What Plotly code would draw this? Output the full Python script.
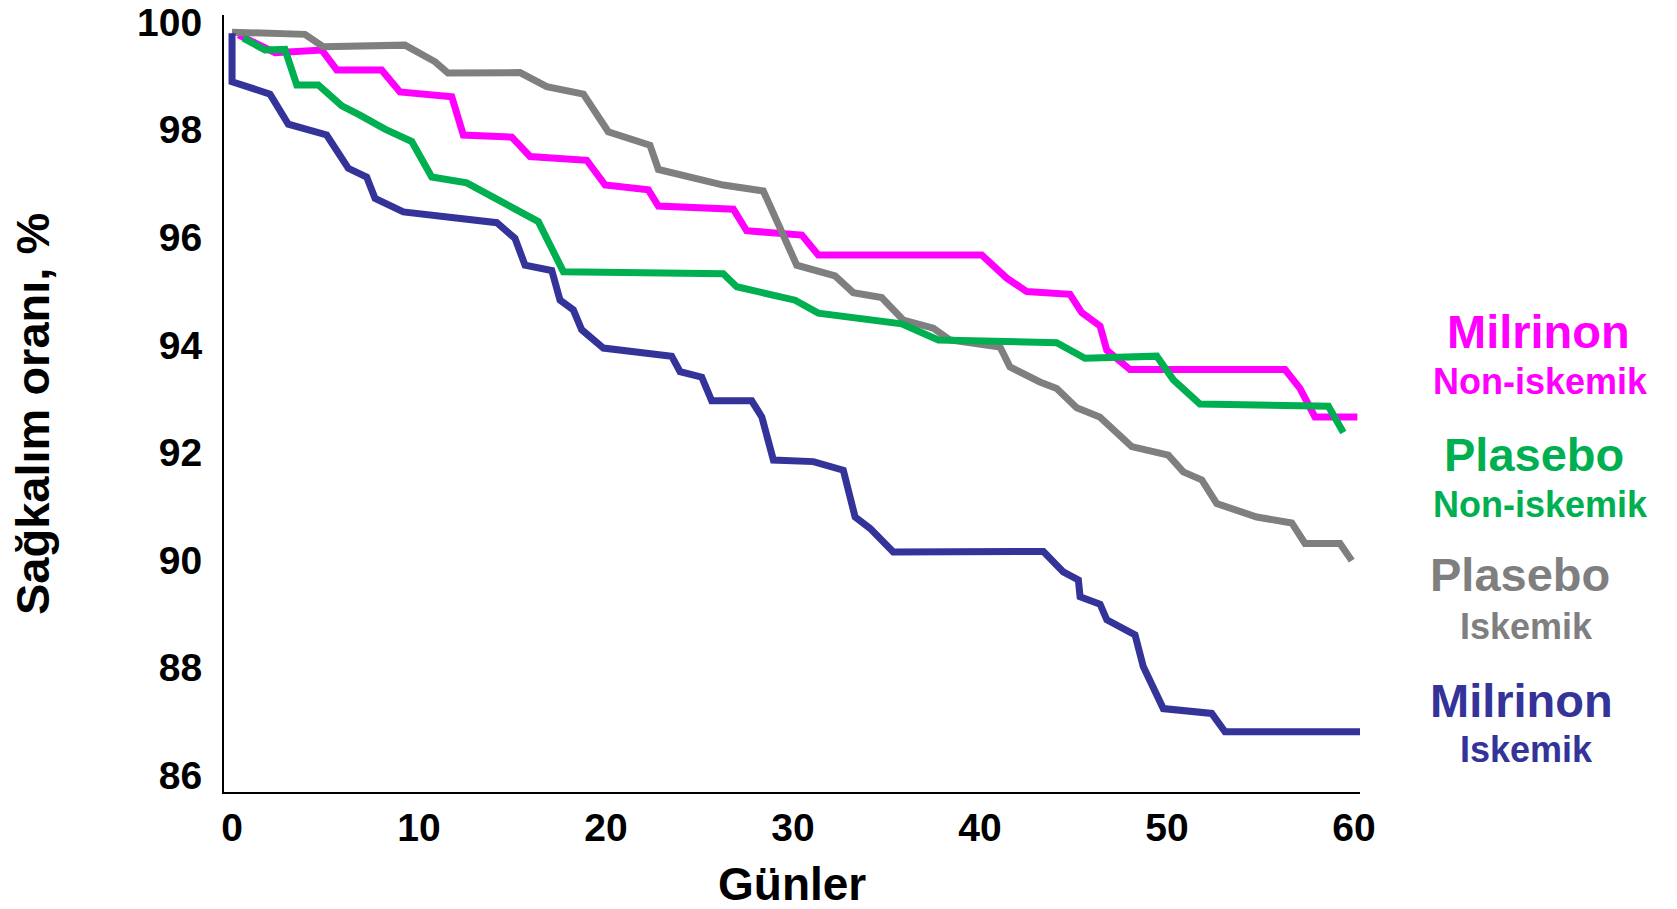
import plotly.graph_objects as go

# ---- data ----
days_milrinon_noniskemik = [0.34, 2.30, 4.80, 5.60, 8.0, 8.98, 11.75, 12.37, 14.96, 15.94, 18.97, 19.95,
                            22.26, 22.8, 26.81, 27.52, 30.47, 31.35, 40.09, 41.43, 42.5, 44.81, 45.44,
                            46.42, 46.78, 48.02, 56.31, 57.11, 57.91, 60.18]
surv_milrinon_noniskemik = [99.76, 99.43, 99.48, 99.11, 99.11, 98.70, 98.61, 97.90, 97.86, 97.50, 97.43, 96.97,
                            96.88, 96.58, 96.52, 96.12, 96.04, 95.67, 95.67, 95.24, 94.99, 94.94, 94.60,
                            94.35, 93.90, 93.54, 93.54, 93.19, 92.66, 92.66]

days_plasebo_iskemik = [0, 3.9, 4.87, 9.25, 10.86, 11.55, 15.4, 16.83, 18.79, 20.12, 22.35, 22.8, 26.27,
                        28.41, 30.2, 32.25, 33.22, 34.74, 35.9, 37.5, 38.4, 41.07, 41.6, 43.2, 44.1, 45.17,
                        46.4, 48.11, 50.07, 50.87, 51.86, 52.66, 54.8, 56.67, 57.38, 59.25, 59.88]
surv_plasebo_iskemik = [99.81, 99.77, 99.54, 99.57, 99.26, 99.05, 99.06, 98.80, 98.66, 97.96, 97.71, 97.26, 96.97,
                        96.86, 95.48, 95.28, 94.97, 94.88, 94.46, 94.31, 94.09, 93.96, 93.59, 93.31, 93.19, 92.83,
                        92.66, 92.11, 91.95, 91.64, 91.49, 91.05, 90.80, 90.69, 90.31, 90.31, 89.99]

days_plasebo_noniskemik = [0.6, 1.76, 2.83, 3.46, 4.61, 5.87, 6.84, 8.18, 9.61, 10.68, 12.55, 13.97, 16.38,
                           17.72, 26.27, 26.99, 30.11, 31.35, 35.81, 37.77, 44.1, 45.61, 49.45, 50.34, 51.76,
                           58.63, 59.43]
surv_plasebo_noniskemik = [99.70, 99.48, 99.49, 98.83, 98.83, 98.44, 98.27, 98.01, 97.78, 97.12, 97.01, 96.75, 96.29,
                           95.36, 95.32, 95.08, 94.83, 94.59, 94.39, 94.09, 94.04, 93.75, 93.79, 93.35, 92.90,
                           92.86, 92.37]

days_milrinon_iskemik = [0, 0, 2.03, 3.01, 5.06, 6.22, 7.20, 7.65, 9.16, 14.16, 15.13, 15.67, 17.1, 17.54,
                         18.25, 18.70, 19.86, 23.51, 23.96, 25.12, 25.65, 27.79, 28.33, 28.95, 31.09, 32.69,
                         33.32, 34.12, 35.36, 43.39, 44.45, 45.26, 45.35, 46.42, 46.78, 48.29, 48.73, 49.80,
                         52.39, 53.10, 60.5]
surv_milrinon_iskemik = [99.79, 98.89, 98.66, 98.10, 97.90, 97.28, 97.12, 96.72, 96.47, 96.27, 95.98, 95.48, 95.38, 94.83,
                         94.65, 94.28, 93.94, 93.79, 93.50, 93.40, 92.96, 92.96, 92.66, 91.86, 91.83, 91.67,
                         90.80, 90.59, 90.15, 90.16, 89.78, 89.63, 89.32, 89.18, 88.89, 88.61, 88.02, 87.24,
                         87.15, 86.81, 86.81]

x_ticks = [0, 10, 20, 30, 40, 50, 60]
y_ticks = [86, 88, 90, 92, 94, 96, 98, 100]
x_title = "Günler"
y_title = "Sağkalım oranı, %"

MAGENTA = "#FF00FF"
GREEN = "#00B050"
GRAY = "#7F7F7F"
BLUE = "#333399"
FONT = "Liberation Sans, Arial, sans-serif"

series = [
    ("Milrinon Non-iskemik", days_milrinon_noniskemik, surv_milrinon_noniskemik, MAGENTA),
    ("Plasebo Iskemik", days_plasebo_iskemik, surv_plasebo_iskemik, GRAY),
    ("Plasebo Non-iskemik", days_plasebo_noniskemik, surv_plasebo_noniskemik, GREEN),
    ("Milrinon Iskemik", days_milrinon_iskemik, surv_milrinon_iskemik, BLUE),
]

fig = go.Figure()
for name, xs, ys, col in series:
    fig.add_trace(go.Scatter(x=xs, y=ys, mode="lines", name=name,
                             line=dict(color=col, width=7), cliponaxis=False,
                             showlegend=False))

# right-hand labels
labels = [
    ("Milrinon", MAGENTA, 47, 1.1567, 0.5933),
    ("Non-iskemik", MAGENTA, 36, 1.1585, 0.5277),
    ("Plasebo", GREEN, 47, 1.1532, 0.4350),
    ("Non-iskemik", GREEN, 36, 1.1585, 0.3694),
    ("Plasebo", GRAY, 47, 1.1408, 0.2793),
    ("Iskemik", GRAY, 36, 1.1470, 0.2136),
    ("Milrinon", BLUE, 47, 1.1426, 0.1184),
    ("Iskemik", BLUE, 36, 1.1470, 0.0553),
]
for txt, col, size, ax, ay in labels:
    fig.add_annotation(text=txt, xref="paper", yref="paper", x=ax, y=ay,
                       xanchor="center", yanchor="middle", showarrow=False,
                       font=dict(family=FONT, size=size, color=col, weight="bold"))

# axis titles
fig.add_annotation(text=x_title, xref="paper", yref="paper", x=0.5, y=-0.118,
                   xanchor="center", yanchor="middle", showarrow=False,
                   font=dict(family=FONT, size=46, color="black", weight="bold"))
fig.add_annotation(text=y_title, xref="paper", yref="paper", x=-0.1681, y=0.4865,
                   xanchor="center", yanchor="middle", showarrow=False, textangle=-90,
                   font=dict(family=FONT, size=47, color="black", weight="bold"))

fig.update_layout(
    width=1677, height=909,
    margin=dict(l=224, r=317, t=15, b=117),
    paper_bgcolor="white", plot_bgcolor="white",
    font=dict(family=FONT, color="black"),
    xaxis=dict(range=[-0.43, 60.32], tickvals=x_ticks, showgrid=False, zeroline=False,
               showline=True, linecolor="black", linewidth=2, ticks="", automargin=False,
               ticklabelstandoff=0,
               tickfont=dict(family=FONT, size=39, color="black", weight="bold")),
    yaxis=dict(range=[85.69, 100.13], tickvals=y_ticks, showgrid=False, zeroline=False,
               showline=True, linecolor="black", linewidth=2, ticks="", automargin=False,
               ticklabelstandoff=12,
               tickfont=dict(family=FONT, size=39, color="black", weight="bold")),
)

fig.write_html("out.html", config=dict(displayModeBar=False),
               post_script="document.body.style.margin='0px';document.body.style.overflow='hidden';")
